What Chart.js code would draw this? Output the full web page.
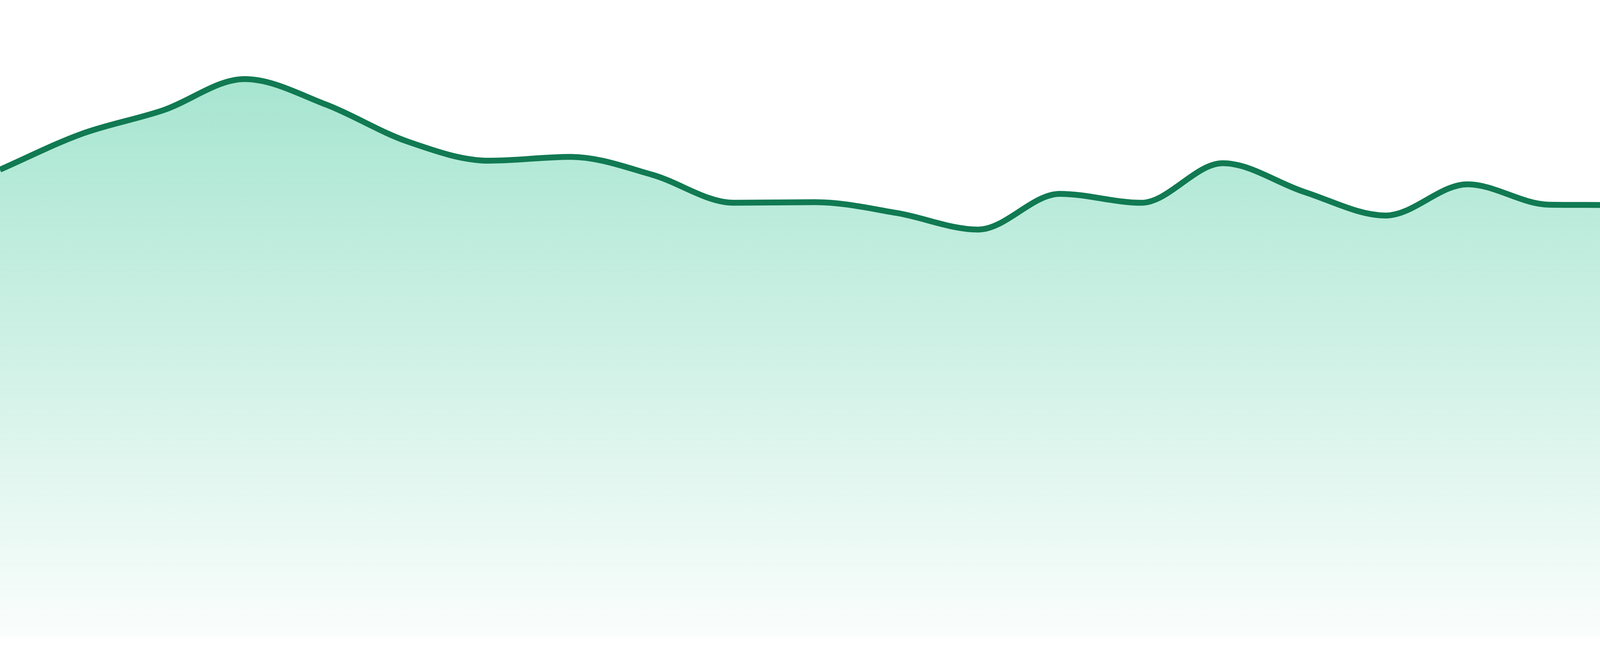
<!DOCTYPE html>
<html>
<head>
<meta charset="utf-8">
<script src="https://cdn.jsdelivr.net/npm/chart.js@4/dist/chart.umd.min.js"></script>
<style>
  html, body { margin: 0; padding: 0; background: #ffffff; }
  .areaChart { position: relative; width: 4800px; height: 1680px; }
</style>
</head>
<body>
<div class="areaChart">
  <canvas id="chart"></canvas>
</div>
<script>
// hourly readings (axis hidden in the picture)
const hours = [
  "00:00", "01:00", "02:00", "03:00", "04:00", "05:00", "06:00", "07:00",
  "08:00", "09:00", "10:00", "11:00", "12:00", "13:00", "14:00", "15:00",
  "16:00", "17:00", "18:00", "19:00", "20:00", "21:00", "22:00", "23:00",
];
const values = [
  73.4, 79.0, 82.7, 87.6, 83.6, 77.8, 74.8, 75.4,
  72.6, 68.2, 68.3, 66.6, 64.0, 69.6, 68.2, 74.4,
  69.9, 66.2, 71.1, 67.9, 67.8, 63.4, 64.4, 59.4,
];
const yMin = 0;
const yMax = 100;

const lineColor = "#117a52";

function fillGradient(context) {
  const { ctx, chartArea } = context.chart;
  if (!chartArea) return "rgba(16,185,129,0.2)";
  const g = ctx.createLinearGradient(0, chartArea.top, 0, chartArea.bottom);
  g.addColorStop(0, "rgba(16,185,129,0.42)");
  g.addColorStop(1, "rgba(16,185,129,0.02)");
  return g;
}

const ctx = document.getElementById("chart").getContext("2d");
new Chart(ctx, {
  type: "line",
  data: {
    labels: hours,
    datasets: [
      {
        label: "Value",
        data: values,
        borderColor: lineColor,
        backgroundColor: fillGradient,
        borderWidth: 15,
        fill: "start",
        pointRadius: 0,
        cubicInterpolationMode: "monotone",
      },
    ],
  },
  options: {
    responsive: true,
    maintainAspectRatio: false,
    animation: false,
    layout: { padding: { top: 0, right: 0, bottom: 47, left: 0 } },
    plugins: {
      legend: { display: false },
      tooltip: { enabled: false },
    },
    scales: {
      x: { display: false, offset: false },
      y: { display: false, min: yMin, max: yMax },
    },
  },
});
</script>
</body>
</html>
